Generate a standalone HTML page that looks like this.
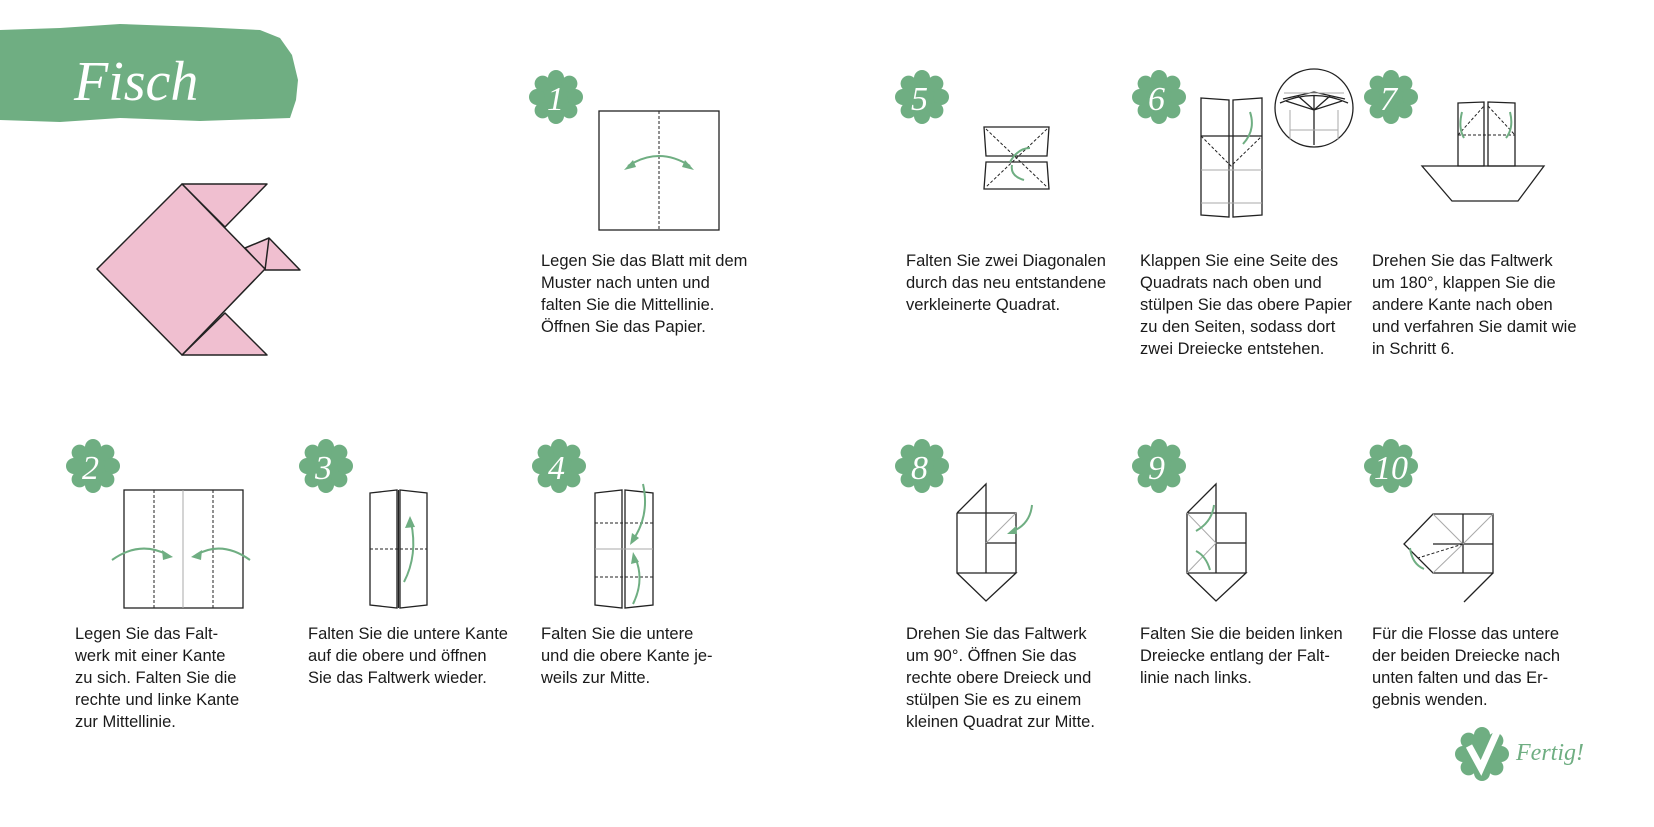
<!DOCTYPE html>
<html><head><meta charset="utf-8"><style>
html,body{margin:0;padding:0;background:#fff;}
svg{display:block}
.t{font-family:"Liberation Sans",sans-serif;font-size:16.5px;fill:#1a1a1a}
.n{font-family:"Liberation Serif",serif;font-style:italic;font-size:34px;fill:#fff}
.k{stroke:#222;stroke-width:1.3;fill:none}
.d{stroke:#222;stroke-width:1;fill:none;stroke-dasharray:3 2}
.g{stroke:#aaa;stroke-width:1;fill:none}
.a{stroke:#6fae82;stroke-width:2;fill:none}
.ah{fill:#6fae82}
</style></head><body>
<svg width="1654" height="827" viewBox="0 0 1654 827" xmlns="http://www.w3.org/2000/svg">
<defs>
<g id="fl" fill="#6fae82">
<circle r="21"/>
<circle cx="0" cy="-19" r="8"/><circle cx="13.4" cy="-13.4" r="8"/><circle cx="19" cy="0" r="8"/><circle cx="13.4" cy="13.4" r="8"/>
<circle cx="0" cy="19" r="8"/><circle cx="-13.4" cy="13.4" r="8"/><circle cx="-19" cy="0" r="8"/><circle cx="-13.4" cy="-13.4" r="8"/>
</g>
</defs>
<!-- banner -->
<path d="M0,30 L60,28 L120,24 L200,27 L260,30 L280,38 L292,55 L298,80 L296,100 L290,118 L200,121 L120,118 L60,122 L0,120 Z" fill="#6fae82"/>
<text x="74" y="100" font-family="Liberation Serif,serif" font-style="italic" font-size="56" fill="#fff">Fisch</text>
<!-- fish -->
<g fill="#f0bfd0" stroke="#222" stroke-width="1.5" stroke-linejoin="round">
<polygon points="182,184 267,184 225,227"/>
<polygon points="182,355 267,355 225,313"/>
<polygon points="245,248 269,238 300,270 265,270"/>
<polygon points="97,269 182,184 265,269 182,355"/>
<line x1="269" y1="238" x2="265" y2="270"/>
</g>
<!-- badges -->
<use href="#fl" x="556" y="97"/><text class="n" x="547" y="110">1</text>
<use href="#fl" x="922" y="97"/><text class="n" x="911" y="110">5</text>
<use href="#fl" x="1159" y="97"/><text class="n" x="1148" y="110">6</text>
<use href="#fl" x="1391" y="97"/><text class="n" x="1380" y="110">7</text>
<use href="#fl" x="93" y="466"/><text class="n" x="82" y="479">2</text>
<use href="#fl" x="326" y="466"/><text class="n" x="315" y="479">3</text>
<use href="#fl" x="559" y="466"/><text class="n" x="548" y="479">4</text>
<use href="#fl" x="922" y="466"/><text class="n" x="911" y="479">8</text>
<use href="#fl" x="1159" y="466"/><text class="n" x="1148" y="479">9</text>
<use href="#fl" x="1391" y="466"/><text class="n" x="1374" y="479">10</text>
<use href="#fl" x="1482" y="754"/>
<path d="M1469,746 L1481,768 L1497,732" stroke="#fff" stroke-width="7" fill="none"/>
<text x="1516" y="760" font-family="Liberation Serif,serif" font-style="italic" font-size="24" fill="#6fae82">Fertig!</text>
<!-- step 1 -->
<rect class="k" x="599" y="111" width="120" height="119"/>
<line class="d" x1="659" y1="111" x2="659" y2="230"/>
<path class="a" d="M628,166 Q659,146 690,166"/>
<polygon class="ah" points="624,170 633,160 636,167"/><polygon class="ah" points="694,170 685,160 682,167"/>
<!-- step 2 -->
<rect class="k" x="124" y="490" width="119" height="118"/>
<line class="d" x1="154" y1="490" x2="154" y2="608"/><line class="d" x1="213" y1="490" x2="213" y2="608"/>
<line class="g" x1="183" y1="490" x2="183" y2="608"/>
<path class="a" d="M112,560 Q140,540 168,555"/><polygon class="ah" points="173,557 162,550 163,560"/>
<path class="a" d="M250,560 Q222,540 196,555"/><polygon class="ah" points="191,557 202,550 201,560"/>
<!-- step 3 -->
<path class="k" d="M370,493 L397,490 L397,608 L370,605 Z M400,490 L427,493 L427,605 L400,608 Z"/>
<line class="k" x1="398.5" y1="490" x2="398.5" y2="608"/>
<line class="d" x1="370" y1="549" x2="427" y2="549"/>
<path class="a" d="M404,582 Q418,555 411,522"/><polygon class="ah" points="410,516 405,528 415,527"/>
<!-- step 4 -->
<path class="k" d="M595,493 L622,490 L622,608 L595,605 Z M625,490 L653,493 L653,605 L625,608 Z"/>
<line class="d" x1="595" y1="523" x2="653" y2="523"/><line class="d" x1="595" y1="577" x2="653" y2="577"/>
<line class="g" x1="595" y1="549" x2="653" y2="549"/>
<path class="a" d="M643,484 Q650,515 633,540"/><polygon class="ah" points="630,545 632,533 639,538"/>
<path class="a" d="M633,604 Q645,580 635,557"/><polygon class="ah" points="633,552 631,564 639,562"/>
<!-- step 5 -->
<path class="k" d="M984,127 L1049,127 L1047,156 L986,156 Z M986,162 L1047,162 L1049,189 L984,189 Z"/>
<path class="d" d="M986,129 L1047,187 M1047,129 L986,187"/>
<path class="a" d="M1010,162 Q1018,148 1030,148"/><path class="a" d="M1012,165 Q1010,176 1024,180"/>
<!-- step 6 -->
<path class="k" d="M1201,98 L1229,100 L1229,217 L1201,215 Z M1233,100 L1262,98 L1262,215 L1233,217 Z"/>
<line class="k" x1="1201" y1="136" x2="1262" y2="136"/>
<path class="d" d="M1201,136 L1231,166 L1262,136"/>
<line class="g" x1="1201" y1="170" x2="1262" y2="170"/><line class="g" x1="1201" y1="203" x2="1262" y2="203"/>
<path class="a" d="M1250,112 Q1256,130 1243,144"/>
<circle class="k" cx="1314" cy="108" r="39"/>
<path class="k" d="M1283,99 L1314,92 L1345,99 M1280,103 Q1314,88 1348,103 M1314,96 L1314,145 M1298,96 L1314,110 L1330,96 M1286,101 L1314,110 L1342,101"/>
<path class="g" d="M1284,93 L1344,93 M1290,110 L1290,140 M1338,110 L1338,140 M1290,130 L1338,130"/>
<!-- step 7 -->
<path class="k" d="M1458,103 L1484,102 L1484,166 L1458,166 Z M1488,102 L1515,103 L1515,166 L1488,166 Z"/>
<line class="d" x1="1458" y1="135" x2="1515" y2="135"/>
<path class="d" d="M1458,135 L1484,106 M1488,106 L1515,135"/>
<path class="k" d="M1422,166 L1544,166 L1518,201 L1452,201 Z"/>
<path class="a" d="M1462,112 Q1458,128 1464,138"/><path class="a" d="M1510,112 Q1514,128 1506,138"/>
<!-- step 8 -->
<path class="k" d="M957,513 L986,484 L986,573 M957,513 L957,573 L1016,573 L986,601 L957,573 M957,513 L1016,513 L1016,573 M986,543 L1016,543"/>
<line class="g" x1="986" y1="543" x2="1016" y2="513"/>
<path class="a" d="M1032,505 Q1030,525 1011,532"/><polygon class="ah" points="1007,534 1016,526 1017,534"/>
<!-- step 9 -->
<path class="k" d="M1187,513 L1216,484 L1216,573 M1187,513 L1187,573 L1246,573 L1216,601 L1187,573 M1187,513 L1246,513 L1246,573 M1216,543 L1246,543"/>
<path class="g" d="M1187,513 L1216,543 L1187,573"/>
<path class="a" d="M1214,505 Q1212,522 1196,531"/><path class="a" d="M1210,570 Q1206,556 1196,551"/>
<!-- step 10 -->
<path class="k" d="M1433,514 L1493,514 L1493,573 L1433,573 L1404,544 Z M1463,514 L1463,573 M1433,544 L1493,544 M1493,573 L1464,602"/>
<path class="g" d="M1433,514 L1463,544 L1493,514 M1433,573 L1463,544"/>
<path class="d" d="M1463,544 L1418,558"/>
<path class="a" d="M1410,548 Q1412,564 1424,569"/>
<!-- texts -->
<text class="t"><tspan x="541" y="266">Legen Sie das Blatt mit dem</tspan><tspan x="541" y="288">Muster nach unten und</tspan><tspan x="541" y="310">falten Sie die Mittellinie.</tspan><tspan x="541" y="332">Öffnen Sie das Papier.</tspan></text>
<text class="t"><tspan x="906" y="266">Falten Sie zwei Diagonalen</tspan><tspan x="906" y="288">durch das neu entstandene</tspan><tspan x="906" y="310">verkleinerte Quadrat.</tspan></text>
<text class="t"><tspan x="1140" y="266">Klappen Sie eine Seite des</tspan><tspan x="1140" y="288">Quadrats nach oben und</tspan><tspan x="1140" y="310">stülpen Sie das obere Papier</tspan><tspan x="1140" y="332">zu den Seiten, sodass dort</tspan><tspan x="1140" y="354">zwei Dreiecke entstehen.</tspan></text>
<text class="t"><tspan x="1372" y="266">Drehen Sie das Faltwerk</tspan><tspan x="1372" y="288">um 180°, klappen Sie die</tspan><tspan x="1372" y="310">andere Kante nach oben</tspan><tspan x="1372" y="332">und verfahren Sie damit wie</tspan><tspan x="1372" y="354">in Schritt 6.</tspan></text>
<text class="t"><tspan x="75" y="639">Legen Sie das Falt-</tspan><tspan x="75" y="661">werk mit einer Kante</tspan><tspan x="75" y="683">zu sich. Falten Sie die</tspan><tspan x="75" y="705">rechte und linke Kante</tspan><tspan x="75" y="727">zur Mittellinie.</tspan></text>
<text class="t"><tspan x="308" y="639">Falten Sie die untere Kante</tspan><tspan x="308" y="661">auf die obere und öffnen</tspan><tspan x="308" y="683">Sie das Faltwerk wieder.</tspan></text>
<text class="t"><tspan x="541" y="639">Falten Sie die untere</tspan><tspan x="541" y="661">und die obere Kante je-</tspan><tspan x="541" y="683">weils zur Mitte.</tspan></text>
<text class="t"><tspan x="906" y="639">Drehen Sie das Faltwerk</tspan><tspan x="906" y="661">um 90°. Öffnen Sie das</tspan><tspan x="906" y="683">rechte obere Dreieck und</tspan><tspan x="906" y="705">stülpen Sie es zu einem</tspan><tspan x="906" y="727">kleinen Quadrat zur Mitte.</tspan></text>
<text class="t"><tspan x="1140" y="639">Falten Sie die beiden linken</tspan><tspan x="1140" y="661">Dreiecke entlang der Falt-</tspan><tspan x="1140" y="683">linie nach links.</tspan></text>
<text class="t"><tspan x="1372" y="639">Für die Flosse das untere</tspan><tspan x="1372" y="661">der beiden Dreiecke nach</tspan><tspan x="1372" y="683">unten falten und das Er-</tspan><tspan x="1372" y="705">gebnis wenden.</tspan></text>
</svg>
</body></html>
